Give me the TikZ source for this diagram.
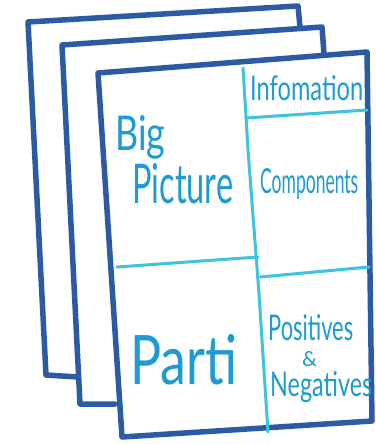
\documentclass[tikz,border=0pt]{standalone}
\usepackage{fontspec}
\setmainfont{Lato}
\definecolor{sheet}{HTML}{2B5CA3}
\definecolor{divc}{HTML}{3CC3DD}
\definecolor{ink}{HTML}{1E9BD3}
\begin{document}
\begin{tikzpicture}[x=1pt,y=-1pt,
  sheetline/.style={draw=sheet,line width=5.5pt,line join=round,line cap=round},
  divline/.style={draw=divc,line width=3pt,line cap=round,line join=round},
  lbl/.style={text=ink,inner sep=0pt,anchor=base west}]
\useasboundingbox[fill=white] (0,0) rectangle (375,444);
% back sheet
\draw[sheetline] (78,377) -- (46,375) -- (28,22) -- (298,6) -- (300,27);
% middle sheet
\draw[sheetline] (115,404) -- (80,404) -- (62,45) -- (322,27) -- (324,54);
% front sheet
\draw[sheetline] (98,73) -- (367,52) -- (372,421) -- (122,437) -- cycle;
% dividers
\draw[divline] (243,68) -- (248,150) -- (259,294) -- (268,432);
\draw[divline] (246,118) -- (367,110);
\draw[divline] (117,267) -- (258,257);
\draw[divline] (260,277) -- (369,267);
% labels
\node[lbl] (info) at (250,100) {\resizebox{113pt}{25pt}{Infomation}};
\node[lbl] (big) at (115,150) {\resizebox{50pt}{35pt}{Big}};
\node[lbl] (pic) at (132,203) {\resizebox{101pt}{40pt}{Picture}};
\node[lbl] (comp) at (260,193) {\resizebox{98pt}{25pt}{Components}};
\node[lbl] (parti) at (130,384) {\resizebox{107pt}{50pt}{Parti}};
\node[lbl] (pos) at (268,340) {\resizebox{85pt}{26pt}{Positives}};
\node[lbl] (amp) at (302,366) {\resizebox{15pt}{15pt}{\&}};
\node[lbl] (neg) at (270,396) {\resizebox{102pt}{25pt}{Negatives}};
\end{tikzpicture}
\end{document}
